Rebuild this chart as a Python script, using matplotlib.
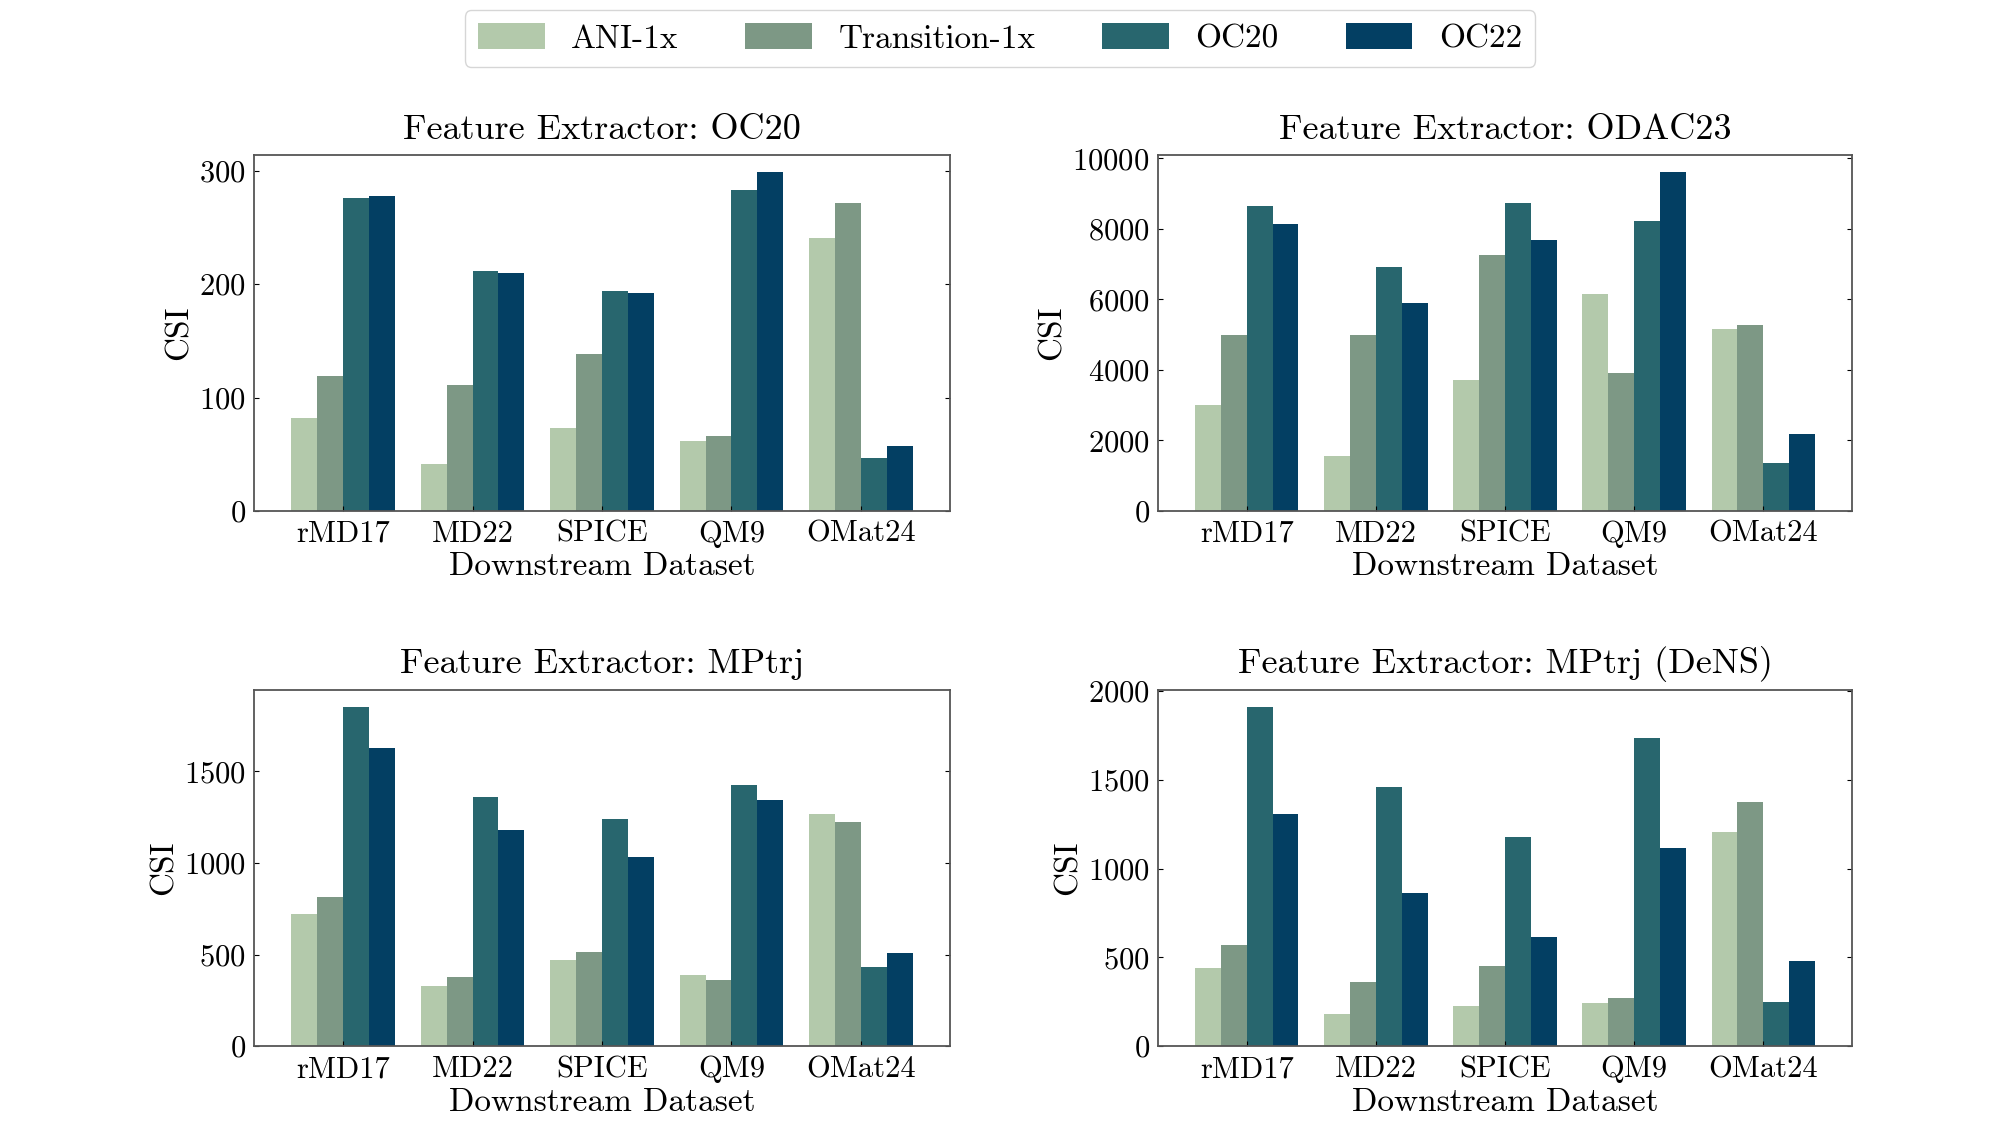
import numpy as np
import matplotlib
matplotlib.use('Agg')
import matplotlib.pyplot as plt
from matplotlib.ticker import MultipleLocator

plt.rcParams['font.family'] = 'serif'
plt.rcParams['font.serif'] = ['cmr10']
plt.rcParams['mathtext.fontset'] = 'cm'
plt.rcParams['axes.formatter.use_mathtext'] = True

datasets = ['rMD17', 'MD22', 'SPICE', 'QM9', 'OMat24']
series = ['ANI-1x', 'Transition-1x', 'OC20', 'OC22']
colors = ['#b3c9ab', '#7d9885', '#28666e', '#033f63']

# CSI values per feature extractor, rows follow `series`
oc20 = [
    [82, 41, 73, 62, 241],
    [119, 111, 138, 66, 272],
    [276, 212, 194, 283, 47],
    [278, 210, 192, 299, 57],
]
odac23 = [
    [3010, 1540, 3700, 6150, 5150],
    [4980, 4980, 7250, 3920, 5270],
    [8660, 6920, 8730, 8230, 1350],
    [8140, 5910, 7690, 9610, 2190],
]
mptrj = [
    [723, 331, 469, 390, 1265],
    [812, 376, 514, 359, 1226],
    [1853, 1362, 1238, 1425, 432],
    [1626, 1181, 1033, 1344, 510],
]
mptrj_dens = [
    [441, 183, 224, 244, 1204],
    [567, 362, 453, 272, 1376],
    [1911, 1456, 1179, 1736, 250],
    [1305, 864, 614, 1114, 480],
]
titles = ['Feature Extractor: OC20', 'Feature Extractor: ODAC23',
          'Feature Extractor: MPtrj', 'Feature Extractor: MPtrj (DeNS)']
panels = [oc20, odac23, mptrj, mptrj_dens]
ystep = [100, 2000, 500, 500]

fig = plt.figure(figsize=(20, 11.25), dpi=100)
boxes = [
    [0.127, 0.546, 0.348, 0.316],
    [0.579, 0.546, 0.347, 0.316],
    [0.127, 0.070, 0.348, 0.317],
    [0.579, 0.070, 0.347, 0.317],
]

x = np.arange(len(datasets))
width = 0.2
for box, data, title, step in zip(boxes, panels, titles, ystep):
    ax = fig.add_axes(box)
    for i, (name, vals) in enumerate(zip(series, data)):
        ax.bar(x + (i - 1.5) * width, vals, width, color=colors[i], label=name)
    ax.set_xticks(x)
    ax.set_xticklabels(datasets)
    ax.margins(x=0.06)
    ax.yaxis.set_major_locator(MultipleLocator(step))
    ax.set_title(title, fontsize=26, pad=12)
    ax.set_xlabel('Downstream Dataset', fontsize=24, labelpad=3)
    ax.set_ylabel('CSI', fontsize=24)
    ax.tick_params(axis='both', direction='in', labelsize=22)
    ax.tick_params(axis='x', pad=7)
    ax.tick_params(axis='y', right=True, pad=6)
    for s in ax.spines.values():
        s.set_color('#555555')
        s.set_linewidth(1.3)

handles, labels = ax.get_legend_handles_labels()
fig.legend(handles, labels, loc='upper center', ncol=4, fontsize=24,
           bbox_to_anchor=(0.5, 1.006), frameon=True, handlelength=2.0,
           handleheight=0.8, columnspacing=2.0, fancybox=True,
           edgecolor='#cccccc')

plt.savefig('out.png')
